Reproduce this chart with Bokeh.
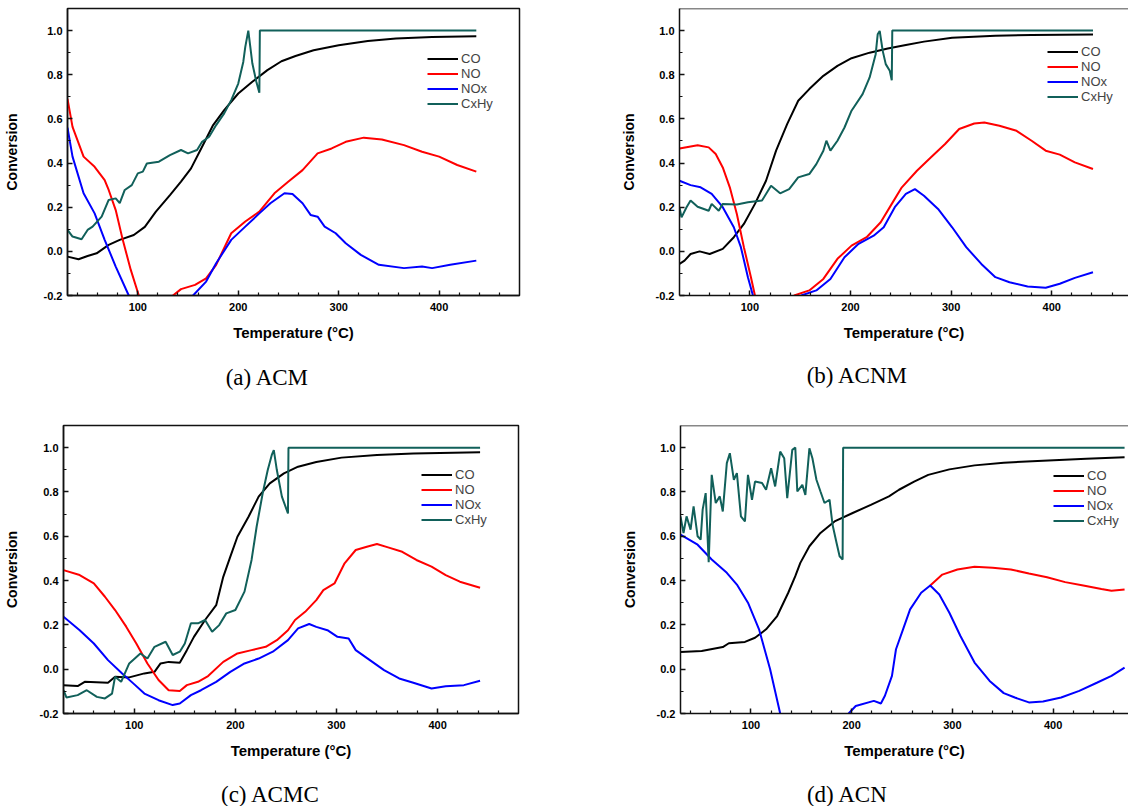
from bokeh.plotting import figure
from bokeh.layouts import column, row
from bokeh.models import Range1d, FixedTicker, PrintfTickFormatter, Legend, LegendItem, Label, Span
from bokeh.embed import file_html
from bokeh.resources import INLINE

SERIES = ["CO", "NO", "NOx", "CxHy"]
COLORS = ["#000000", "#ff0000", "#0000ff", "#11605a"]
CAPTIONS = ["(a) ACM", "(b) ACNM", "(c) ACMC", "(d) ACN"]
X_LABEL = "Temperature (°C)"
Y_LABEL = "Conversion"
X_MAJOR = [100, 200, 300, 400]
X_MINOR = [40, 60, 80, 120, 140, 160, 180, 220, 240, 260, 280, 320, 340, 360, 380, 420, 440, 460]
Y_MAJOR = [-0.2, 0.0, 0.2, 0.4, 0.6, 0.8, 1.0]
Y_MINOR = [-0.1, 0.1, 0.3, 0.5, 0.7, 0.9]

# ---------------- (a) ACM ----------------
A_CO_T = [30, 41, 50, 59, 71, 82, 96, 107, 118, 132, 143, 153, 164, 175, 186, 200, 214, 229, 243, 257, 275, 300, 329, 357, 393, 437]
A_CO_V = [-0.024, -0.036, -0.021, -0.009, 0.029, 0.052, 0.074, 0.111, 0.180, 0.255, 0.316, 0.376, 0.474, 0.572, 0.640, 0.715, 0.768, 0.821, 0.861, 0.885, 0.911, 0.934, 0.953, 0.964, 0.971, 0.974]
A_NO_T = [30, 35, 46, 57, 67, 71, 78, 85, 93, 101, 110, 122, 132, 135, 143, 157, 168, 178, 193, 207, 221, 236, 250, 264, 279, 293, 307, 325, 343, 365, 383, 400, 418, 437]
A_NO_V = [0.69, 0.564, 0.429, 0.383, 0.323, 0.278, 0.187, 0.052, -0.084, -0.2, -0.33, -0.40, -0.30, -0.2, -0.171, -0.152, -0.122, -0.061, 0.082, 0.135, 0.180, 0.263, 0.316, 0.368, 0.444, 0.466, 0.496, 0.515, 0.507, 0.481, 0.451, 0.429, 0.391, 0.361]
A_NOX_T = [30, 35, 46, 57, 67, 78, 91, 100, 130, 150, 155, 168, 178, 193, 207, 221, 232, 246, 254, 264, 272, 279, 286, 297, 307, 322, 340, 365, 383, 393, 411, 437]
A_NOX_V = [0.56, 0.429, 0.263, 0.172, 0.052, -0.069, -0.2, -0.35, -0.5, -0.3, -0.2, -0.137, -0.054, 0.052, 0.112, 0.172, 0.218, 0.263, 0.260, 0.218, 0.165, 0.157, 0.112, 0.082, 0.037, -0.016, -0.061, -0.076, -0.069, -0.076, -0.061, -0.042]
A_HC_T = [30, 35, 44, 50, 55, 64, 71, 78, 82, 87, 94, 100, 105, 109, 121, 132, 143, 150, 159, 164, 171, 178, 186, 193, 200, 205, 207, 210, 212, 214, 218, 221, 221.5, 437]
A_HC_V = [0.097, 0.067, 0.055, 0.097, 0.112, 0.157, 0.233, 0.240, 0.218, 0.278, 0.300, 0.353, 0.361, 0.398, 0.406, 0.436, 0.459, 0.444, 0.459, 0.496, 0.519, 0.572, 0.625, 0.685, 0.760, 0.858, 0.926, 1.0, 0.926, 0.852, 0.768, 0.718, 1.0, 1.0]

# ---------------- (b) ACNM ----------------
B_CO_T = [30, 35, 41, 50, 60, 73, 84, 94, 105, 116, 126, 137, 148, 159, 173, 187, 201, 219, 237, 255, 273, 301, 344, 380, 441]
B_CO_V = [-0.057, -0.042, -0.012, 0.000, -0.012, 0.011, 0.064, 0.124, 0.215, 0.320, 0.456, 0.576, 0.682, 0.735, 0.795, 0.840, 0.875, 0.900, 0.919, 0.935, 0.950, 0.968, 0.977, 0.980, 0.982]
B_NO_T = [30, 48, 59, 66, 73, 80, 87, 94, 101, 105, 112, 125, 138, 144, 159, 173, 187, 201, 216, 230, 241, 251, 266, 280, 294, 308, 323, 333, 348, 365, 380, 394, 408, 423, 441]
B_NO_V = [0.466, 0.481, 0.471, 0.441, 0.380, 0.290, 0.169, 0.019, -0.117, -0.2, -0.33, -0.42, -0.30, -0.2, -0.177, -0.125, -0.034, 0.026, 0.064, 0.132, 0.215, 0.290, 0.365, 0.426, 0.486, 0.554, 0.579, 0.584, 0.569, 0.546, 0.501, 0.456, 0.438, 0.403, 0.373]
B_NOX_T = [30, 41, 51, 62, 73, 84, 91, 98, 103, 110, 130, 148, 151, 166, 180, 194, 208, 223, 233, 244, 255, 264, 273, 287, 301, 315, 330, 344, 358, 376, 394, 408, 423, 441]
B_NOX_V = [0.320, 0.300, 0.290, 0.260, 0.200, 0.109, 0.019, -0.117, -0.2, -0.33, -0.45, -0.28, -0.2, -0.177, -0.125, -0.027, 0.034, 0.071, 0.109, 0.200, 0.260, 0.282, 0.252, 0.192, 0.109, 0.019, -0.057, -0.117, -0.140, -0.159, -0.165, -0.147, -0.120, -0.095]
B_HC_T = [30, 32, 37, 41, 48, 59, 62, 69, 73, 87, 98, 112, 121, 130, 139, 148, 159, 166, 173, 176, 180, 187, 194, 201, 212, 219, 225, 227, 229, 232, 235, 239, 241, 241.5, 441]
B_HC_V = [0.200, 0.154, 0.200, 0.230, 0.202, 0.184, 0.215, 0.184, 0.215, 0.212, 0.222, 0.230, 0.297, 0.263, 0.282, 0.335, 0.350, 0.395, 0.456, 0.501, 0.456, 0.501, 0.561, 0.637, 0.712, 0.788, 0.893, 0.983, 0.998, 0.908, 0.848, 0.818, 0.775, 1.0, 1.0]

# ---------------- (c) ACMC ----------------
C_CO_T = [30, 44, 51, 74, 81, 95, 110, 120, 126, 134, 145, 152, 159, 170, 181, 188, 195, 202, 213, 223, 234, 248, 262, 280, 305, 340, 376, 442]
C_CO_V = [-0.072, -0.076, -0.057, -0.061, -0.034, -0.037, -0.019, -0.012, 0.026, 0.033, 0.029, 0.086, 0.146, 0.222, 0.289, 0.417, 0.508, 0.598, 0.688, 0.779, 0.839, 0.884, 0.914, 0.935, 0.955, 0.967, 0.974, 0.979]
C_NO_T = [30, 46, 60, 71, 81, 92, 102, 113, 124, 134, 145, 152, 163, 173, 188, 202, 216, 230, 241, 252, 259, 269, 280, 287, 298, 308, 319, 330, 340, 351, 365, 379, 394, 408, 422, 442]
C_NO_V = [0.447, 0.425, 0.387, 0.327, 0.267, 0.192, 0.116, 0.026, -0.049, -0.095, -0.098, -0.072, -0.057, -0.031, 0.033, 0.071, 0.086, 0.101, 0.131, 0.176, 0.222, 0.259, 0.312, 0.357, 0.387, 0.478, 0.538, 0.553, 0.565, 0.550, 0.530, 0.493, 0.463, 0.425, 0.395, 0.368]
C_NOX_T = [30, 46, 60, 74, 88, 99, 110, 124, 138, 145, 156, 166, 181, 195, 209, 223, 237, 252, 262, 273, 280, 291, 301, 312, 319, 333, 347, 362, 376, 394, 408, 426, 442]
C_NOX_V = [0.237, 0.176, 0.116, 0.041, -0.019, -0.064, -0.110, -0.140, -0.162, -0.155, -0.117, -0.095, -0.057, -0.012, 0.026, 0.048, 0.079, 0.131, 0.184, 0.204, 0.191, 0.176, 0.146, 0.139, 0.086, 0.041, -0.004, -0.042, -0.061, -0.087, -0.077, -0.072, -0.052]
C_HC_T = [30, 33, 44, 53, 63, 71, 78, 81, 87, 95, 106, 113, 120, 131, 138, 145, 150, 156, 163, 170, 177, 184, 191, 200, 209, 216, 221, 227, 232, 236, 238, 241, 246, 252, 252.5, 442]
C_HC_V = [-0.095, -0.128, -0.117, -0.095, -0.125, -0.132, -0.110, -0.034, -0.057, 0.026, 0.071, 0.048, 0.101, 0.124, 0.064, 0.079, 0.116, 0.207, 0.207, 0.222, 0.169, 0.199, 0.252, 0.267, 0.350, 0.493, 0.643, 0.794, 0.899, 0.967, 0.989, 0.899, 0.779, 0.703, 1.0, 1.0]

# ---------------- (d) ACN ----------------
D_CO_T = [30, 51, 72, 78, 94, 104, 115, 126, 137, 144, 149, 158, 169, 183, 201, 219, 237, 247, 262, 276, 297, 322, 351, 390, 433, 471]
D_CO_V = [0.078, 0.082, 0.100, 0.117, 0.123, 0.142, 0.180, 0.240, 0.345, 0.420, 0.480, 0.555, 0.615, 0.667, 0.705, 0.742, 0.780, 0.810, 0.847, 0.877, 0.902, 0.920, 0.932, 0.941, 0.950, 0.957]
D_NO_T = [278, 290, 305, 322, 340, 358, 376, 394, 412, 430, 448, 458, 471]
D_NO_V = [0.378, 0.427, 0.450, 0.462, 0.458, 0.450, 0.432, 0.415, 0.393, 0.378, 0.362, 0.354, 0.360]
D_NOX_T = [30, 47, 61, 76, 86, 97, 108, 119, 129, 145, 180, 195, 197, 204, 222, 229, 233, 240, 244, 251, 258, 269, 278, 287, 297, 308, 322, 337, 351, 362, 376, 390, 408, 426, 444, 458, 471]
D_NOX_V = [0.607, 0.562, 0.495, 0.435, 0.382, 0.300, 0.180, 0.000, -0.2, -0.45, -0.5, -0.23, -0.2, -0.166, -0.143, -0.155, -0.120, -0.030, 0.090, 0.180, 0.270, 0.345, 0.378, 0.337, 0.255, 0.150, 0.030, -0.053, -0.108, -0.128, -0.150, -0.146, -0.128, -0.098, -0.060, -0.030, 0.007]
D_HC_T = [30, 33, 36, 40, 43, 47, 50, 52, 55, 58, 61, 65, 69, 72, 76, 79, 83, 86, 90, 94, 97, 101, 104, 111, 115, 120, 124, 129, 133, 136, 141, 144, 146, 151, 154, 158, 161, 165, 169, 173, 178, 181, 185, 188, 191, 191.5, 471]
D_HC_V = [0.690, 0.615, 0.690, 0.630, 0.735, 0.600, 0.585, 0.720, 0.795, 0.483, 0.877, 0.750, 0.780, 0.712, 0.930, 0.975, 0.855, 0.885, 0.690, 0.667, 0.877, 0.765, 0.847, 0.840, 0.810, 0.907, 0.825, 0.982, 0.952, 0.772, 0.990, 1.000, 0.802, 0.832, 0.787, 0.997, 0.952, 0.855, 0.802, 0.750, 0.765, 0.652, 0.570, 0.510, 0.495, 1.0, 1.0]

PANELS = [
    [(A_CO_T, A_CO_V), (A_NO_T, A_NO_V), (A_NOX_T, A_NOX_V), (A_HC_T, A_HC_V)],
    [(B_CO_T, B_CO_V), (B_NO_T, B_NO_V), (B_NOX_T, B_NOX_V), (B_HC_T, B_HC_V)],
    [(C_CO_T, C_CO_V), (C_NO_T, C_NO_V), (C_NOX_T, C_NOX_V), (C_HC_T, C_HC_V)],
    [(D_CO_T, D_CO_V), (D_NO_T, D_NO_V), (D_NOX_T, D_NOX_V), (D_HC_T, D_HC_V)],
]

FONT = "Liberation Sans"


def make_panel(idx, width, height, bl, br, bt, bb, x_end, ylab_standoff, legend_xy, cropped):
    p = figure(width=width, height=height, x_range=Range1d(30, x_end), y_range=Range1d(-0.2, 1.1),
               output_backend="svg", toolbar_location=None,
               min_border_left=bl, min_border_right=br, min_border_top=bt, min_border_bottom=bb)
    p.grid.visible = False
    p.background_fill_color = "white"
    p.border_fill_color = "white"
    if cropped:
        p.outline_line_color = None
        p.add_layout(Span(location=1.1, dimension="width", line_color="#111111", line_width=1.5))
    else:
        p.outline_line_color = "#111111"
        p.outline_line_width = 1.5
        p.outline_line_alpha = 1.0

    xa = p.xaxis[0]
    ya = p.yaxis[0]
    xa.ticker = FixedTicker(ticks=X_MAJOR, minor_ticks=X_MINOR)
    ya.ticker = FixedTicker(ticks=Y_MAJOR, minor_ticks=Y_MINOR)
    ya.formatter = PrintfTickFormatter(format="%.1f")
    for ax in (xa, ya):
        ax.major_tick_in = 5
        ax.major_tick_out = 0
        ax.minor_tick_in = 3
        ax.minor_tick_out = 0
        ax.major_tick_line_width = 1.5
        ax.minor_tick_line_width = 1.2
        ax.major_tick_line_color = "#111111"
        ax.minor_tick_line_color = "#111111"
        ax.axis_line_width = 1.5
        ax.axis_line_color = "#111111"
        ax.major_label_text_font = FONT
        ax.major_label_text_font_style = "bold"
        ax.major_label_text_font_size = "11px"
        ax.major_label_text_color = "black"
        ax.axis_label_text_font = FONT
        ax.axis_label_text_font_style = "bold"
        ax.axis_label_text_color = "black"
    xa.axis_label = X_LABEL
    xa.axis_label_text_font_size = "15px"
    xa.major_label_standoff = 7
    xa.axis_label_standoff = 10
    ya.axis_label = Y_LABEL
    ya.axis_label_text_font_size = "14px"
    ya.major_label_standoff = 5
    ya.axis_label_standoff = ylab_standoff

    items = []
    for (t, v), name, color in zip(PANELS[idx], SERIES, COLORS):
        r = p.line(t, v, line_color=color, line_width=2)
        items.append(LegendItem(label=name, renderers=[r]))
    leg = Legend(items=items, location=legend_xy, padding=0, margin=0, spacing=0,
                 glyph_width=31, glyph_height=15, label_height=15, label_standoff=3,
                 label_text_font=FONT, label_text_font_size="13px",
                 border_line_color=None, background_fill_alpha=0)
    p.add_layout(leg)
    return p


def make_caption(idx, width, height, cx, cy):
    c = figure(width=width, height=height, x_range=Range1d(0, width), y_range=Range1d(0, height),
               output_backend="svg", toolbar_location=None, x_axis_type=None, y_axis_type=None,
               min_border=0)
    c.grid.visible = False
    c.outline_line_color = None
    c.background_fill_color = "white"
    c.border_fill_color = "white"
    c.add_layout(Label(x=cx, y=cy, text=CAPTIONS[idx], text_font="Liberation Serif",
                       text_font_size="23px", text_align="center", text_baseline="middle",
                       text_color="black"))
    return c


pa = make_panel(0, 600, 350, 67, 81, 8, 55, 480, 21, (360, 184), False)
pb = make_panel(1, 528, 350, 79, 0, 8, 55, 476.3, 16, (368, 191), True)
ca = make_caption(0, 600, 65, 267, 38)
cb = make_caption(1, 528, 65, 257, 40)
pc = make_panel(2, 600, 346, 63, 82, 10, 48, 480, 17, (358, 186), False)
pd = make_panel(3, 528, 346, 80, 0, 10, 48, 474.9, 16, (373, 185), True)
cc = make_caption(2, 600, 45, 270, 12)
cd = make_caption(3, 528, 45, 247, 12)

layout = column(row(pa, pb), row(ca, cb), row(pc, pd), row(cc, cd))
open("out.html", "w").write(file_html(layout, INLINE))
